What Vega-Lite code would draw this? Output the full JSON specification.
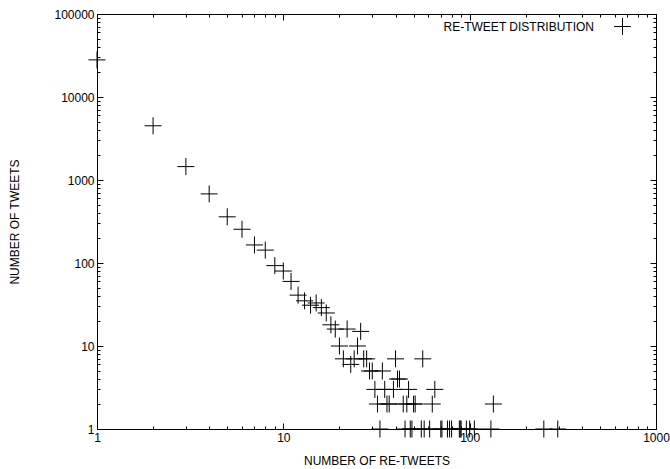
{
  "$schema": "https://vega.github.io/schema/vega-lite/v6.json",
  "width": 559,
  "height": 415,
  "autosize": {"type": "none"},
  "padding": {"left": 97, "top": 14, "right": 14, "bottom": 40},
  "background": "white",
  "config": {
    "view": {"stroke": "black", "strokeWidth": 1},
    "font": "Liberation Sans",
    "axis": {
      "grid": false,
      "domainColor": "black",
      "domainWidth": 1,
      "tickColor": "black",
      "tickWidth": 1,
      "labelColor": "black",
      "labelFont": "Liberation Sans",
      "labelFontSize": 12,
      "titleFont": "Liberation Sans",
      "titleFontSize": 12,
      "titleFontWeight": "normal",
      "titleColor": "black",
      "labelOverlap": false,
      "labelFlush": false
    }
  },
  "data": {
    "values": [
      {"retweets": 1, "tweets": 28000},
      {"retweets": 2, "tweets": 4500},
      {"retweets": 3, "tweets": 1450},
      {"retweets": 4, "tweets": 680},
      {"retweets": 5, "tweets": 360},
      {"retweets": 6, "tweets": 255},
      {"retweets": 7, "tweets": 165},
      {"retweets": 8, "tweets": 143},
      {"retweets": 9, "tweets": 93},
      {"retweets": 10, "tweets": 80},
      {"retweets": 11, "tweets": 60},
      {"retweets": 12, "tweets": 41},
      {"retweets": 13, "tweets": 35},
      {"retweets": 14, "tweets": 31},
      {"retweets": 15, "tweets": 33},
      {"retweets": 16, "tweets": 29},
      {"retweets": 17, "tweets": 25},
      {"retweets": 18, "tweets": 18},
      {"retweets": 19, "tweets": 16},
      {"retweets": 20, "tweets": 10},
      {"retweets": 21, "tweets": 7},
      {"retweets": 22, "tweets": 16},
      {"retweets": 23, "tweets": 6},
      {"retweets": 24, "tweets": 7},
      {"retweets": 25, "tweets": 10},
      {"retweets": 26, "tweets": 15},
      {"retweets": 27, "tweets": 7},
      {"retweets": 28, "tweets": 7},
      {"retweets": 29, "tweets": 5},
      {"retweets": 30, "tweets": 5},
      {"retweets": 31, "tweets": 3},
      {"retweets": 32, "tweets": 2},
      {"retweets": 33, "tweets": 1},
      {"retweets": 34, "tweets": 5},
      {"retweets": 35, "tweets": 3},
      {"retweets": 36, "tweets": 2},
      {"retweets": 37, "tweets": 2},
      {"retweets": 39, "tweets": 3},
      {"retweets": 40, "tweets": 7},
      {"retweets": 41, "tweets": 4},
      {"retweets": 42, "tweets": 4},
      {"retweets": 44, "tweets": 2},
      {"retweets": 45, "tweets": 1},
      {"retweets": 46, "tweets": 2},
      {"retweets": 47, "tweets": 3},
      {"retweets": 48, "tweets": 1},
      {"retweets": 49, "tweets": 1},
      {"retweets": 50, "tweets": 2},
      {"retweets": 51, "tweets": 2},
      {"retweets": 55, "tweets": 1},
      {"retweets": 56, "tweets": 7},
      {"retweets": 57, "tweets": 1},
      {"retweets": 61, "tweets": 1},
      {"retweets": 63, "tweets": 2},
      {"retweets": 65, "tweets": 3},
      {"retweets": 70, "tweets": 1},
      {"retweets": 71, "tweets": 1},
      {"retweets": 76, "tweets": 1},
      {"retweets": 78, "tweets": 1},
      {"retweets": 80, "tweets": 1},
      {"retweets": 88, "tweets": 1},
      {"retweets": 89, "tweets": 1},
      {"retweets": 90, "tweets": 1},
      {"retweets": 96, "tweets": 1},
      {"retweets": 100, "tweets": 1},
      {"retweets": 106, "tweets": 1},
      {"retweets": 130, "tweets": 1},
      {"retweets": 134, "tweets": 2},
      {"retweets": 250, "tweets": 1},
      {"retweets": 297, "tweets": 1}
    ]
  },
  "layer": [
    {
      "mark": {"type": "point", "filled": false, "stroke": "black", "strokeWidth": 1, "size": 289, "opacity": 1},
      "encoding": {
        "x": {
          "field": "retweets",
          "type": "quantitative",
          "scale": {"type": "log", "domain": [1, 1000], "nice": false},
          "axis": {
            "orient": "bottom",
            "values": [1,2,3,4,5,6,7,8,9,10,20,30,40,50,60,70,80,90,100,200,300,400,500,600,700,800,900,1000],
            "format": "d",
            "labelExpr": "indexof([1,10,100,1000], datum.value) >= 0 ? datum.label : ''",
            "tickSize": {"condition": {"test": "indexof([1,10,100,1000], datum.value) >= 0", "value": -6}, "value": -3},
            "labelPadding": 9,
            "title": "NUMBER OF RE-TWEETS",
            "titleY": 31,
            "titleBaseline": "middle"
          }
        },
        "y": {
          "field": "tweets",
          "type": "quantitative",
          "scale": {"type": "log", "domain": [1, 100000], "nice": false},
          "axis": {
            "orient": "left",
            "values": [1,2,3,4,5,6,7,8,9,10,20,30,40,50,60,70,80,90,100,200,300,400,500,600,700,800,900,1000,2000,3000,4000,5000,6000,7000,8000,9000,10000,20000,30000,40000,50000,60000,70000,80000,90000,100000],
            "format": "d",
            "labelExpr": "indexof([1,10,100,1000,10000,100000], datum.value) >= 0 ? datum.label : ''",
            "tickSize": {"condition": {"test": "indexof([1,10,100,1000,10000,100000], datum.value) >= 0", "value": -6}, "value": -3},
            "labelPadding": 9,
            "title": "NUMBER OF TWEETS",
            "titleX": -83,
            "titleY": 207.5,
            "titleBaseline": "middle"
          }
        },
        "shape": {
          "datum": "RE-TWEET DISTRIBUTION",
          "type": "nominal",
          "scale": {"range": ["M-1,0L1,0M0,-1L0,1"]},
          "legend": {
            "orient": "none",
            "legendX": 516.5,
            "legendY": 3.5,
            "title": null,
            "padding": 0,
            "labelFont": "Liberation Sans",
            "labelFontSize": 12,
            "labelColor": "black",
            "labelAlign": "right",
            "labelOffset": -37.5,
            "symbolSize": 289,
            "symbolStrokeColor": "black",
            "symbolStrokeWidth": 1,
            "symbolFillColor": "transparent"
          }
        }
      }
    },
    {
      "mark": {"type": "point", "opacity": 0},
      "encoding": {
        "x": {
          "field": "retweets",
          "type": "quantitative",
          "scale": {"type": "log", "domain": [1, 1000], "nice": false},
          "axis": {
            "orient": "top",
            "values": [1,2,3,4,5,6,7,8,9,10,20,30,40,50,60,70,80,90,100,200,300,400,500,600,700,800,900,1000],
            "labels": false,
            "tickSize": {"condition": {"test": "indexof([1,10,100,1000], datum.value) >= 0", "value": -6}, "value": -3},
            "title": null
          }
        },
        "y": {
          "field": "tweets",
          "type": "quantitative",
          "scale": {"type": "log", "domain": [1, 100000], "nice": false},
          "axis": {
            "orient": "right",
            "values": [1,2,3,4,5,6,7,8,9,10,20,30,40,50,60,70,80,90,100,200,300,400,500,600,700,800,900,1000,2000,3000,4000,5000,6000,7000,8000,9000,10000,20000,30000,40000,50000,60000,70000,80000,90000,100000],
            "labels": false,
            "tickSize": {"condition": {"test": "indexof([1,10,100,1000,10000,100000], datum.value) >= 0", "value": -6}, "value": -3},
            "title": null
          }
        }
      }
    }
  ],
  "resolve": {"axis": {"x": "independent", "y": "independent"}}
}
